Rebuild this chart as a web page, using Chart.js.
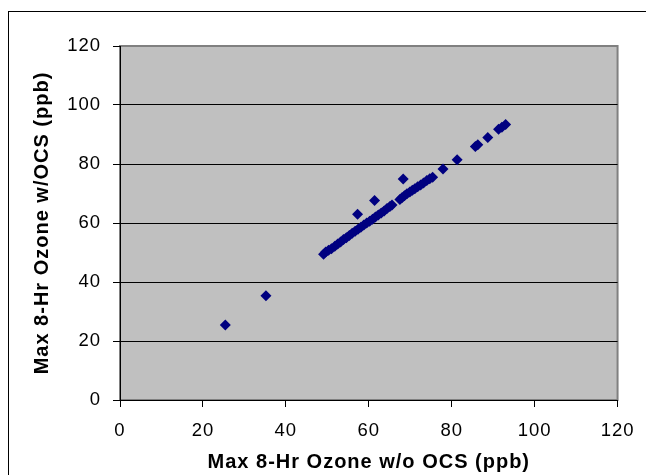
<!DOCTYPE html>
<html>
<head>
<meta charset="utf-8">
<script src="https://cdn.jsdelivr.net/npm/chart.js@4/dist/chart.umd.min.js"></script>
<style>
  body { margin: 0; background: #fff; }
  canvas { display: block; }
</style>
</head>
<body>
<canvas id="grafico-ozono" width="646" height="475"></canvas>
<script>
// Max 8-hr ozone without OCS (x) and with OCS (y), ppb
const ozoneWithout = [
  25.4, 35.2,
  49.1, 49.6, 50.3, 51.0, 51.8, 52.5, 53.2, 53.9, 54.6, 55.3, 56.0, 56.7,
  57.4, 58.1, 58.8, 59.5, 60.2, 60.9, 61.6, 62.3, 63.0, 63.7, 64.4, 65.1, 65.6,
  67.5, 68.0, 68.6, 69.2, 69.9, 70.5, 71.1, 71.8, 72.5, 73.2, 74.0, 74.7, 75.4,
  77.9, 81.3, 85.7, 86.3, 88.7, 91.3, 92.1, 93.0,
  57.3, 61.4, 68.3,
];
const ozoneWith = [
  25.4, 35.3,
  49.4, 50.2, 50.8, 51.3, 52.1, 52.9, 53.6, 54.4, 55.0, 55.8, 56.5, 57.2,
  57.9, 58.6, 59.3, 60.0, 60.6, 61.3, 62.0, 62.7, 63.4, 64.1, 64.9, 65.6, 66.1,
  68.0, 68.6, 69.2, 69.9, 70.5, 71.1, 71.6, 72.3, 72.9, 73.6, 74.4, 75.0, 75.5,
  78.3, 81.4, 85.9, 86.5, 89.0, 91.8, 92.5, 93.4,
  63.0, 67.6, 74.9,
];
const axisTicks = [0, 20, 40, 60, 80, 100, 120];

const fontFamily = 'Arial, "Liberation Sans", sans-serif';

// white page, black frame, grey plot area
const fondo = {
  id: "fondo",
  beforeDraw(chart) {
    const { ctx, chartArea: a } = chart;
    ctx.save();
    ctx.fillStyle = "#fff";
    ctx.fillRect(0, 0, chart.width, chart.height);
    ctx.strokeStyle = "#000";
    ctx.lineWidth = 1;
    ctx.strokeRect(8.5, 11.5, chart.width + 10, chart.height + 10);
    ctx.fillStyle = "#C0C0C0";
    ctx.fillRect(a.left, a.top, a.right - a.left, a.bottom - a.top);
    ctx.strokeStyle = "#808080";
    ctx.lineWidth = 2;
    ctx.strokeRect(a.left, a.top, a.right - a.left, a.bottom - a.top);
    ctx.restore();
    // text in this chart is set a little wide
    ctx.letterSpacing = "1px";
  },
};

document.addEventListener("DOMContentLoaded", () => {
  const ctx = document.getElementById("grafico-ozono").getContext("2d");
  new Chart(ctx, {
    type: "scatter",
    data: {
      datasets: [
        {
          data: ozoneWithout.map((x, i) => ({ x: x, y: ozoneWith[i] })),
          pointStyle: "rectRot",
          pointRadius: 5.5,
          pointBorderWidth: 0,
          backgroundColor: "#000080",
          borderColor: "#000080",
        },
      ],
    },
    options: {
      responsive: false,
      animation: false,
      layout: { padding: { left: 0, top: 46, right: 25, bottom: 0 } },
      plugins: { legend: { display: false }, tooltip: { enabled: false } },
      scales: {
        x: {
          type: "linear",
          min: 0,
          max: 120,
          afterBuildTicks: (s) => { s.ticks = axisTicks.map((v) => ({ value: v })); },
          afterFit: (s) => { s.height = 75; },
          border: { color: "#000", width: 1 },
          grid: { drawOnChartArea: false, drawTicks: true, tickLength: 7, tickColor: "#000" },
          ticks: { color: "#000", padding: 13, font: { family: fontFamily, size: 18.5 } },
          title: {
            display: true,
            text: "Max 8-Hr Ozone w/o OCS (ppb)",
            color: "#000",
            padding: { top: 0, bottom: 1 },
            font: { family: fontFamily, size: 20, weight: "bold" },
          },
        },
        y: {
          min: 0,
          max: 120,
          afterBuildTicks: (s) => { s.ticks = axisTicks.map((v) => ({ value: v })); },
          afterFit: (s) => { s.width = 120; },
          border: { color: "#000", width: 1 },
          grid: {
            color: (c) => (c.tick && c.tick.value === 120 ? "#808080" : "#000"),
            tickColor: "#000",
            tickLength: 7,
          },
          ticks: { color: "#000", padding: 12, font: { family: fontFamily, size: 18.5 } },
          title: {
            display: true,
            text: "Max 8-Hr Ozone w/OCS (ppb)",
            color: "#000",
            padding: { top: 30, bottom: 0 },
            font: { family: fontFamily, size: 20, weight: "bold" },
          },
        },
      },
    },
    plugins: [fondo],
  });
});
</script>
</body>
</html>
